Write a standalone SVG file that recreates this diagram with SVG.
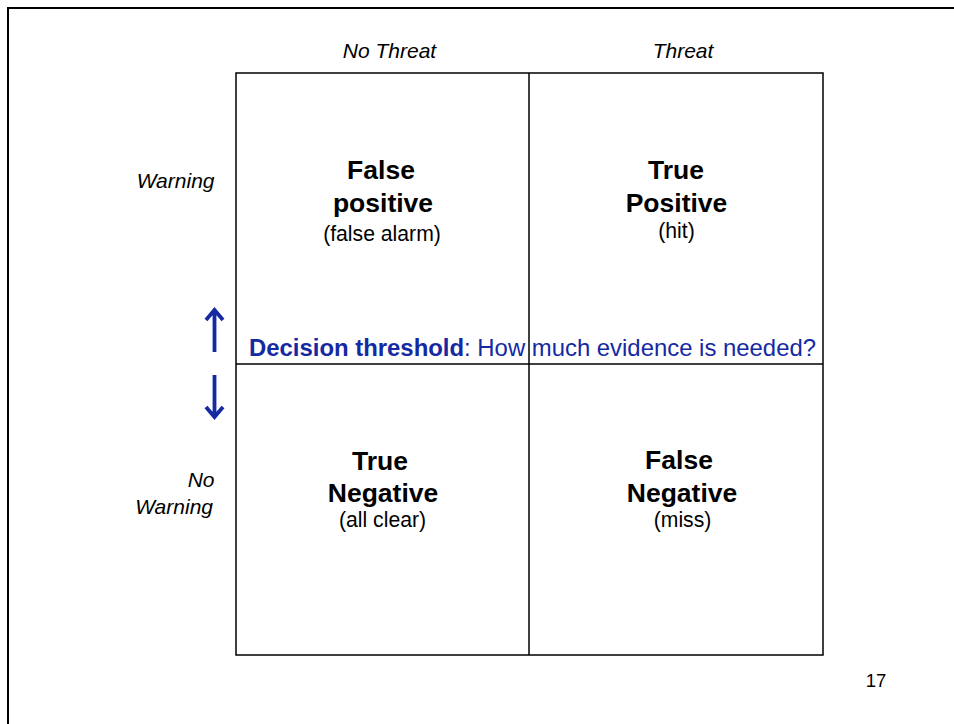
<svg xmlns="http://www.w3.org/2000/svg" width="954" height="724" viewBox="0 0 954 724">
<style>
text{font-family:"Liberation Sans",Arial,Helvetica,sans-serif;fill:#000}
.ax{font-size:21px;font-style:italic}
.big{font-size:26.5px;font-weight:bold;text-anchor:middle}
.sub{font-size:21.2px;text-anchor:middle}
.blue{fill:#1529a3;font-size:23.9px}
.grid{fill:none;stroke:#000;stroke-width:1.5}
.arr{fill:none;stroke:#1529a3;stroke-width:3.8;stroke-linecap:butt;stroke-linejoin:miter}
</style>
<rect width="954" height="724" fill="#fff"/>
<path d="M8 724V8H954" fill="none" stroke="#000" stroke-width="2"/>
<g id="axis-labels">
<text class="ax" x="389.5" y="57.5" text-anchor="middle">No Threat</text>
<text class="ax" x="683" y="57.5" text-anchor="middle">Threat</text>
<text class="ax" x="214.5" y="187.5" text-anchor="end">Warning</text>
<text class="ax" x="214.5" y="487" text-anchor="end">No</text>
<text class="ax" x="213" y="513.5" text-anchor="end">Warning</text>
</g>
<g id="grid">
<rect class="grid" x="236" y="73" width="587" height="582"/>
<line class="grid" x1="529" y1="73" x2="529" y2="655"/>
<line class="grid" x1="236" y1="364" x2="823" y2="364"/>
</g>
<g id="false-positive">
<text class="big" x="381" y="178.5">False</text>
<text class="big" x="383" y="212">positive</text>
<text class="sub" x="382" y="241">(false alarm)</text>
</g>
<g id="true-positive">
<text class="big" x="676" y="178.5">True</text>
<text class="big" x="676.5" y="212">Positive</text>
<text class="sub" x="676.5" y="237.5">(hit)</text>
</g>
<g id="true-negative">
<text class="big" x="380" y="469.5">True</text>
<text class="big" x="383" y="502">Negative</text>
<text class="sub" x="382.5" y="527">(all clear)</text>
</g>
<g id="false-negative">
<text class="big" x="679" y="469">False</text>
<text class="big" x="682" y="502">Negative</text>
<text class="sub" x="682.5" y="527">(miss)</text>
</g>
<g id="threshold">
<text class="blue" x="249" y="355.5"><tspan font-weight="bold">Decision threshold</tspan>: How much evidence is needed?</text>
</g>
<g id="connectors">
<path class="arr" d="M214.5 352V311M206 320L214.5 310L223 320"/>
<path class="arr" d="M214.5 375V416M206 407L214.5 417L223 407"/>
</g>
<text x="876" y="687" font-size="18.5" text-anchor="middle">17</text>
</svg>
